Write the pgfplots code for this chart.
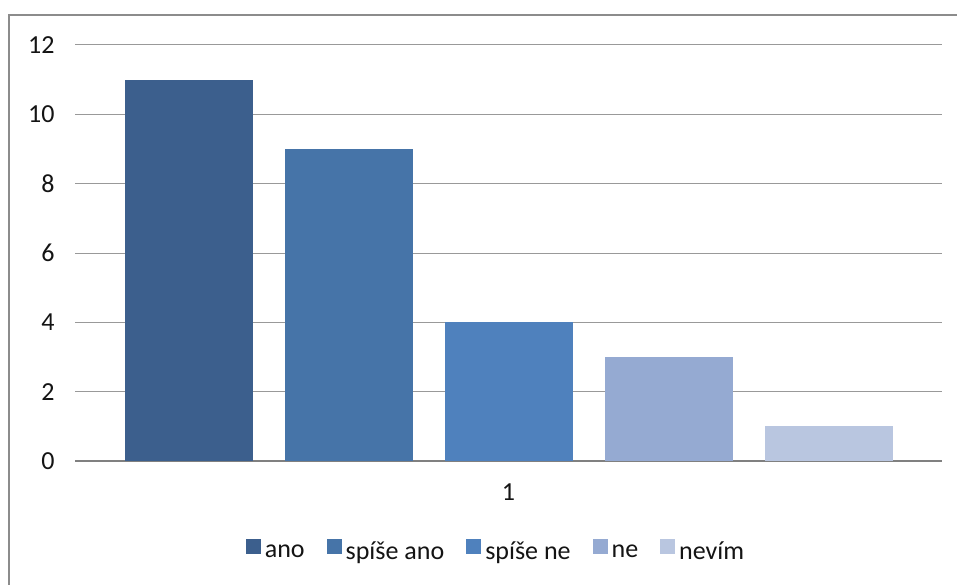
\documentclass[border=0pt]{standalone}
\usepackage{pgfplots}
\pgfplotsset{compat=1.18}
\usepackage{fontspec}
\setmainfont{Carlito}
\definecolor{c1}{RGB}{60,95,141}
\definecolor{c2}{RGB}{70,116,168}
\definecolor{c3}{RGB}{79,129,189}
\definecolor{c4}{RGB}{149,170,210}
\definecolor{c5}{RGB}{185,198,224}
\definecolor{txt}{RGB}{20,20,20}
\newcommand{\chfont}{\fontsize{26}{26}\selectfont}
\begin{document}
\begin{tikzpicture}[x=1pt,y=1pt]
\useasboundingbox (0,0) rectangle (957,584);
\begin{scope}
\clip (0,0) rectangle (957,584);
\fill[white] (0,0) rectangle (957,584);
\draw[color=black!45, line width=2.5pt] (9,569) rectangle (990,-30);
\end{scope}
\begin{axis}[
  at={(75pt,123pt)}, anchor=south west,
  scale only axis, width=867pt, height=416pt,
  xmin=0, xmax=2, ymin=0, ymax=12,
  ytick={0,2,...,12}, xtick={1},
  ybar=32pt, bar width=128pt,
  axis x line*=bottom, axis y line*=left,
  axis line style={-},
  y axis line style={draw=none},
  x axis line style={color=black!50, line width=1.3pt},
  major tick length=0pt,
  ymajorgrids, grid style={color=black!40, line width=1pt},
  /pgf/number format/assume math mode=true,
  tick label style={font=\chfont, text=txt},
  yticklabel style={xshift=-17pt},
  xticklabel style={yshift=-19pt},
  legend style={at={(0.4856,-0.216)}, anchor=center, draw=none, fill=none,
    font=\chfont, text=txt, legend columns=-1,
    /tikz/every even column/.append style={column sep=20pt},
    /tikz/every odd column/.append style={column sep=2pt},
    legend cell align=left},
  legend image code/.code={\fill[#1] (0pt,-2pt) rectangle (15pt,13pt);},
]
\addplot[draw=none, fill=c1] coordinates {(1,11)};
\addplot[draw=none, fill=c2] coordinates {(1,9)};
\addplot[draw=none, fill=c3] coordinates {(1,4)};
\addplot[draw=none, fill=c4] coordinates {(1,3)};
\addplot[draw=none, fill=c5] coordinates {(1,1)};
\legend{ano, spíše ano, spíše ne, ne, nevím}
\end{axis}
\end{tikzpicture}
\end{document}
